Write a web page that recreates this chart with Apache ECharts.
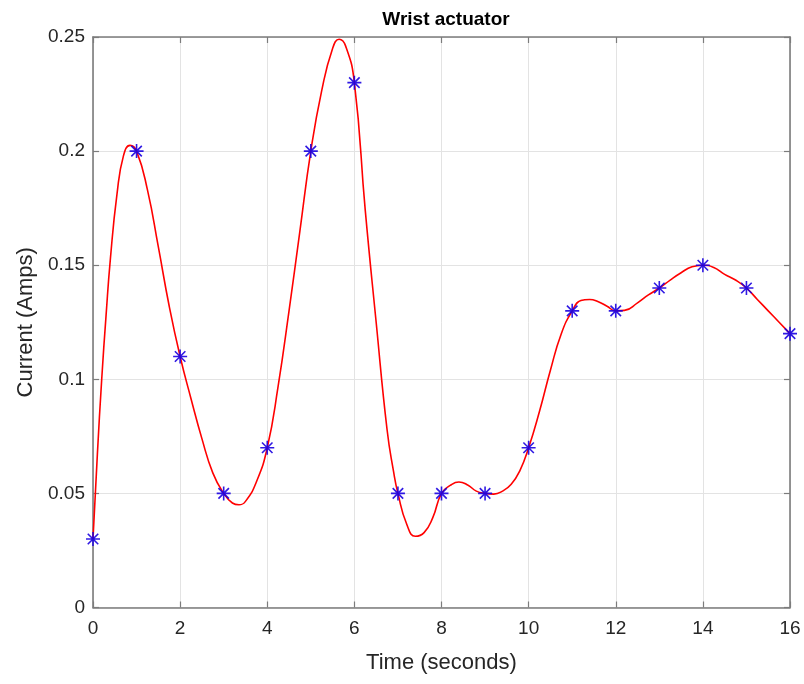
<!DOCTYPE html>
<html>
<head>
<meta charset="utf-8">
<title>Wrist actuator</title>
<script src="https://cdn.jsdelivr.net/npm/echarts@6/dist/echarts.min.js"></script>
<style>
  html, body { margin: 0; padding: 0; background: #ffffff; }
  #chart { width: 804px; height: 684px; }
</style>
</head>
<body>
<div id="chart"></div>
<script>
// measured samples (asterisks)
const timeS = [0, 1, 2, 3, 4, 5, 6, 7, 8, 9, 10, 11, 12, 13, 14, 15, 16];
const currentA = [0.03, 0.20, 0.11, 0.05, 0.07, 0.20, 0.23, 0.05, 0.05, 0.05,
                  0.07, 0.13, 0.13, 0.14, 0.15, 0.14, 0.12];

// red curve
const curveT = [0, 0.1, 0.2, 0.3, 0.4, 0.55, 0.7, 0.85, 1, 1.25, 1.5, 1.75, 2,
                2.25, 2.5, 2.75, 3, 3.2, 3.35, 3.5, 3.75, 4, 4.25, 4.5, 4.75, 5,
                5.25, 5.5, 5.65, 5.8, 6, 6.25, 6.5, 6.75, 6.9, 7, 7.2, 7.4, 7.6, 7.8, 8,
                8.2, 8.4, 8.6, 8.8, 9, 9.2, 9.4, 9.6, 9.8, 10, 10.25, 10.5, 10.75, 11,
                11.2, 11.4, 11.6, 11.8, 12, 12.2, 12.5, 12.75, 13, 13.25, 13.5, 13.75,
                14, 14.25, 14.5, 14.75, 15, 15.25, 15.5, 15.75, 16];
const curveA = [0.03, 0.067, 0.10, 0.128, 0.153, 0.181, 0.198, 0.2025, 0.20, 0.183, 0.158, 0.132, 0.11,
                0.0915, 0.074, 0.059, 0.05, 0.0458, 0.045, 0.0465, 0.055, 0.07, 0.097, 0.13, 0.165, 0.20,
                0.2265, 0.245, 0.249, 0.246, 0.23, 0.174, 0.125, 0.078, 0.0595, 0.05, 0.0366, 0.0312, 0.0328, 0.0394, 0.05,
                0.0535, 0.055, 0.0537, 0.051, 0.05, 0.0497, 0.051, 0.054, 0.060, 0.07, 0.086, 0.104, 0.120, 0.13,
                0.1345, 0.135, 0.134, 0.132, 0.13, 0.1302, 0.1335, 0.137, 0.14, 0.1435, 0.1467, 0.1493,
                0.15, 0.149, 0.146, 0.1435, 0.14, 0.135, 0.130, 0.125, 0.12];

const xTicks = [0, 2, 4, 6, 8, 10, 12, 14, 16];
const yTicks = ["0", "0.05", "0.1", "0.15", "0.2", "0.25"];

const FONT = "Liberation Sans, Arial, Helvetica, sans-serif";
const AXIS_COL = "#7c7c7c";
const GRID_COL = "#e3e3e3";
const TEXT_COL = "#262626";

// MATLAB style '*' marker: plus + cross
const STAR = "path://M0,-10L0,10M-10,0L10,0M-7.5,-7.5L7.5,7.5M-7.5,7.5L7.5,-7.5";

const chart = echarts.init(document.getElementById("chart"), null, { renderer: "canvas" });

function boxAxis(pos, isX) {
  return {
    type: "value",
    position: pos,
    min: 0,
    max: isX ? 16 : 0.25,
    interval: isX ? 2 : 0.05,
    axisLine: { show: true, onZero: false, lineStyle: { color: AXIS_COL, width: 1.6 } },
    axisTick: { show: true, inside: true, length: 6, lineStyle: { color: AXIS_COL, width: 1.2 } },
    axisLabel: { show: false },
    splitLine: { show: false }
  };
}

const option = {
  animation: false,
  backgroundColor: "#ffffff",
  title: {
    text: "Wrist actuator",
    left: 441,
    top: 5,
    textAlign: "center",
    textStyle: { fontFamily: FONT, fontWeight: "bold", fontSize: 19, color: "#000000" }
  },
  grid: { left: 93, right: 14, top: 37, bottom: 76.5, containLabel: false },
  xAxis: [
    {
      type: "value",
      position: "bottom",
      min: 0,
      max: 16,
      interval: 2,
      name: "Time (seconds)",
      nameLocation: "middle",
      nameGap: 44,
      nameTextStyle: { fontFamily: FONT, fontSize: 22, color: TEXT_COL },
      axisLine: { show: true, onZero: false, lineStyle: { color: AXIS_COL, width: 1.6 } },
      axisTick: { show: true, inside: true, length: 6, lineStyle: { color: AXIS_COL, width: 1.2 } },
      axisLabel: {
        margin: 12,
        fontFamily: FONT,
        fontSize: 19,
        color: TEXT_COL,
        formatter: v => (xTicks.indexOf(v) >= 0 ? String(v) : "")
      },
      splitLine: { show: true, lineStyle: { color: GRID_COL, width: 1 } }
    },
    boxAxis("top", true)
  ],
  yAxis: [
    {
      type: "value",
      position: "left",
      min: 0,
      max: 0.25,
      interval: 0.05,
      name: "Current (Amps)",
      nameLocation: "middle",
      nameGap: 50,
      nameTextStyle: { fontFamily: FONT, fontSize: 22, color: TEXT_COL },
      axisLine: { show: true, onZero: false, lineStyle: { color: AXIS_COL, width: 1.6 } },
      axisTick: { show: true, inside: true, length: 6, lineStyle: { color: AXIS_COL, width: 1.2 } },
      axisLabel: {
        margin: 8,
        fontFamily: FONT,
        fontSize: 19,
        color: TEXT_COL,
        formatter: v => yTicks[Math.round(v / 0.05)] || ""
      },
      splitLine: { show: true, lineStyle: { color: GRID_COL, width: 1 } }
    },
    boxAxis("right", false)
  ],
  series: [
    {
      name: "spline",
      type: "line",
      data: curveT.map((t, i) => [t, curveA[i]]),
      smooth: 0.5,
      showSymbol: false,
      symbol: "none",
      lineStyle: { color: "#ff0000", width: 1.6 },
      silent: true,
      z: 3
    },
    {
      name: "samples",
      type: "scatter",
      data: timeS.map((t, i) => [t, currentA[i]]),
      symbol: STAR,
      symbolSize: 14,
      itemStyle: { color: "rgba(0,0,0,0)", borderColor: "#1a00e0", borderWidth: 1.6, opacity: 0.9 },
      silent: true,
      z: 4
    }
  ]
};

chart.setOption(option);
</script>
</body>
</html>
